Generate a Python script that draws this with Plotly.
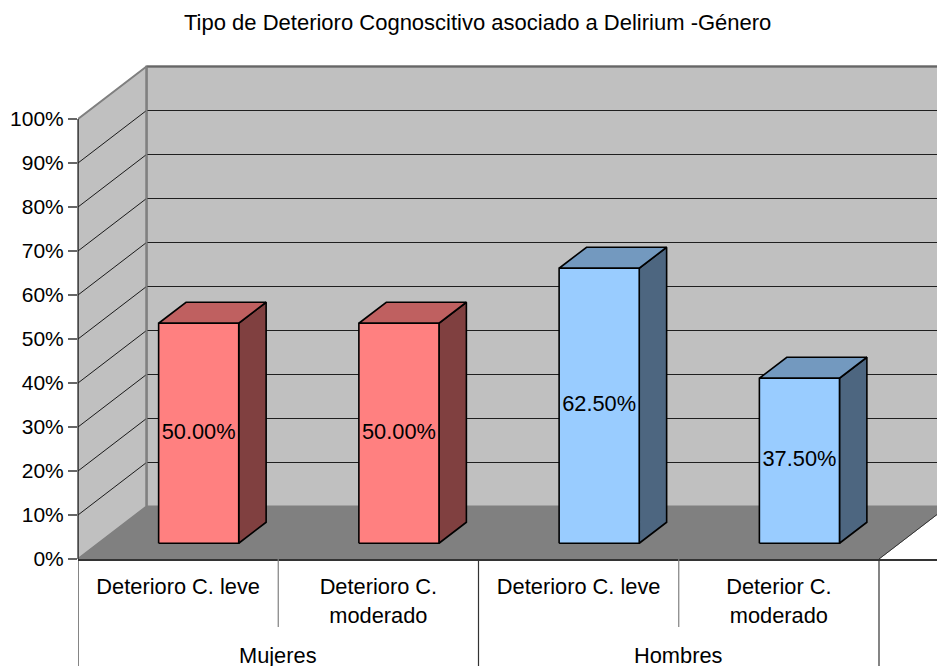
import plotly.graph_objects as go

# Data
categories = ["Deterioro C. leve", "Deterioro C.<br>moderado", "Deterioro C. leve", "Deterior C.<br>moderado"]
groups = ["Mujeres", "Hombres"]
values = [50.0, 50.0, 62.5, 37.5]
value_labels = ["50.00%", "50.00%", "62.50%", "37.50%"]
y_ticks = [0, 10, 20, 30, 40, 50, 60, 70, 80, 90, 100]
title_text = "Tipo de Deterioro Cognoscitivo asociado a Delirium -Género"

front_colors = ["#ff8080", "#ff8080", "#99ccff", "#99ccff"]
top_colors = ["#bf6060", "#bf6060", "#7399bf", "#7399bf"]
side_colors = ["#804040", "#804040", "#4d6680", "#4d6680"]

WIDTH, HEIGHT = 937, 666
ML, MB = 78, 107
UNIT_X = 200.25      # px per category
UNIT_Y = 4.4         # px per percent
DX = 68.5 / UNIT_X   # depth shift in x units
DY = 52.5 / UNIT_Y   # depth shift in y units
BAR_HALF = 0.2
D0, D1 = 0.3, 0.7    # bar depth extent within floor
FONT = "Liberation Sans"
FS = 21.8


def proj(x, y, d):
    return x + DX * d, y + DY * d


def poly(points, fill, line, width):
    xs, ys = zip(*points)
    return go.Scatter(x=list(xs) + [xs[0]], y=list(ys) + [ys[0]], mode="lines", fill="toself",
                      fillcolor=fill, line=dict(color=line, width=width), hoverinfo="skip",
                      showlegend=False)


n = len(categories)
top = y_ticks[-1]
traces = []
# Walls and floor
traces.append(poly([proj(0, 0, 1), proj(n, 0, 1), proj(n, top, 1), proj(0, top, 1)], "#c0c0c0", "#808080", 2))
traces.append(poly([proj(0, 0, 0), proj(0, 0, 1), proj(0, top, 1), proj(0, top, 0)], "#c0c0c0", "#808080", 2))
traces.append(poly([proj(0, 0, 0), proj(n, 0, 0), proj(n, 0, 1), proj(0, 0, 1)], "#808080", "#808080", 1))
# Grid lines on side and back walls
for t in y_ticks[1:]:
    a, b, c = proj(0, t, 0), proj(0, t, 1), proj(n, t, 1)
    color = "#808080" if t == top else "#1a1a1a"
    traces.append(go.Scatter(x=[a[0], b[0]], y=[a[1], b[1]], mode="lines",
                             line=dict(color=color, width=1), hoverinfo="skip", showlegend=False))
    traces.append(go.Scatter(x=[b[0], c[0]], y=[b[1], c[1]], mode="lines",
                             line=dict(color="#666666" if t == top else "#1f1f1f", width=1.2 if t != top else 2),
                             hoverinfo="skip", showlegend=False))
# Re-draw back corner edge above the grid
traces.append(go.Scatter(x=[proj(0, 0, 1)[0]] * 2, y=[proj(0, 0, 1)[1], proj(0, top, 1)[1]], mode="lines",
                         line=dict(color="#808080", width=2), hoverinfo="skip", showlegend=False))
# Floor front-right edge
e0, e1 = proj(n, 0, 0), proj(n, 0, 1)
traces.append(go.Scatter(x=[e0[0], e1[0]], y=[e0[1], e1[1]], mode="lines",
                         line=dict(color="#333333", width=1), hoverinfo="skip", showlegend=False))
# Bars
for i, v in enumerate(values):
    x0, x1 = i + 0.5 - BAR_HALF, i + 0.5 + BAR_HALF
    traces.append(poly([proj(x1, 0, D0), proj(x1, 0, D1), proj(x1, v, D1), proj(x1, v, D0)],
                       side_colors[i], "#000000", 1.6))
    traces.append(poly([proj(x0, v, D0), proj(x1, v, D0), proj(x1, v, D1), proj(x0, v, D1)],
                       top_colors[i], "#000000", 1.6))
    traces.append(poly([proj(x0, 0, D0), proj(x1, 0, D0), proj(x1, v, D0), proj(x0, v, D0)],
                       front_colors[i], "#000000", 1.6))
# Value labels
lx, ly = [], []
for i, v in enumerate(values):
    p = proj(i + 0.5, v / 2, D0)
    lx.append(p[0])
    ly.append(p[1])
traces.append(go.Scatter(x=lx, y=ly, mode="text", text=value_labels, textposition="middle center",
                         textfont=dict(family=FONT, size=FS, color="#000000"), hoverinfo="skip", showlegend=False))

fig = go.Figure(traces)

shapes = []
for i in range(n + 1):
    long_line = i % 2 == 0
    shapes.append(dict(type="line", xref="x", yref="paper", x0=i, x1=i, y0=0,
                       y1=-1 if long_line else -68 / (HEIGHT - MB),
                       line=dict(color="#333333" if long_line else "#808080", width=1.2)))

annotations = [dict(text=g, xref="x", yref="paper", x=2 * j + 1, y=-96 / (HEIGHT - MB), showarrow=False,
                    xanchor="center", yanchor="middle", font=dict(family=FONT, size=FS, color="#000000"))
               for j, g in enumerate(groups)]
annotations.append(dict(text=title_text, xref="paper", yref="paper", x=(477.5 - ML) / (WIDTH - ML), y=(HEIGHT - MB - 22) / (HEIGHT - MB),
                        showarrow=False, xanchor="center", yanchor="middle",
                        font=dict(family=FONT, size=22, color="#000000")))

fig.update_layout(
    width=WIDTH, height=HEIGHT, autosize=False,
    margin=dict(l=ML, r=0, t=0, b=MB, pad=0),
    paper_bgcolor="white", plot_bgcolor="white",
    shapes=shapes, annotations=annotations, showlegend=False,
    font=dict(family=FONT, size=FS, color="#000000"),
    xaxis=dict(range=[0, (WIDTH - ML) / UNIT_X], tickmode="array",
               tickvals=[i + 0.5 for i in range(n)], ticktext=categories,
               showgrid=False, zeroline=False, showline=True, linecolor="#333333", linewidth=2,
               ticks="outside", ticklen=7, tickcolor="rgba(0,0,0,0)", tickfont=dict(family=FONT, size=FS)),
    yaxis=dict(range=[0, (HEIGHT - MB) / UNIT_Y], tickmode="array", tickvals=y_ticks,
               ticktext=[f"{t}%" for t in y_ticks], showgrid=False, zeroline=False,
               showline=False, ticks="outside", ticklen=9, tickcolor="#666666", tickwidth=1.5,
               tickfont=dict(family=FONT, size=21)),
)
# y-axis line over the category range only
fig.add_shape(type="line", xref="paper", yref="y", x0=0, x1=0, y0=0, y1=top, line=dict(color="#222222", width=1.2))

fig.write_html("out.html", config=dict(displayModeBar=False),
               post_script="document.body.style.margin='0';document.body.style.overflow='hidden';")
